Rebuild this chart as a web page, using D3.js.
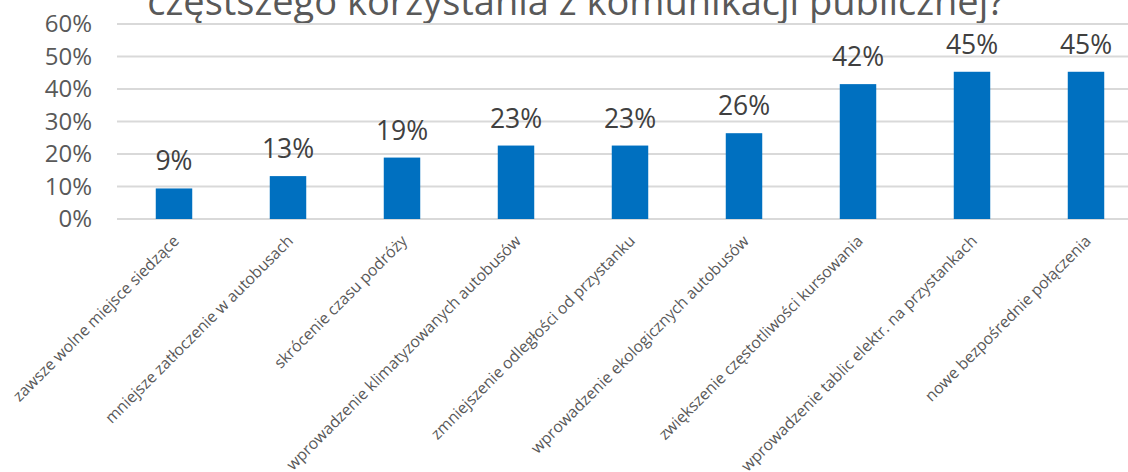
<!DOCTYPE html>
<html>
<head>
<meta charset="utf-8">
<script src="https://cdn.jsdelivr.net/npm/d3@7"></script>
<style>
    html, body { margin: 0; padding: 0; background: #fff; overflow: hidden; }
    svg { display: block; font-family: "Open Sans", sans-serif; }
</style>
</head>
<body>
<svg id="chart" width="1128" height="472"></svg>
<script>
// Co skłoniłoby do częstszego korzystania z komunikacji publicznej

const categories = [
    "zawsze wolne miejsce siedzące",
    "mniejsze zatłoczenie w autobusach",
    "skrócenie czasu podróży",
    "wprowadzenie klimatyzowanych autobusów",
    "zmniejszenie odległości od przystanku",
    "wprowadzenie ekologicznych autobusów",
    "zwiększenie częstotliwości kursowania",
    "wprowadzenie tablic elektr. na przystankach",
    "nowe bezpośrednie połączenia",
];
const values = [9.4, 13.2, 18.9, 22.6, 22.6, 26.4, 41.5, 45.3, 45.3];
const yTicks = [0, 10, 20, 30, 40, 50, 60];
const titleLine = "częstszego korzystania z komunikacji publicznej?";

const svg = d3.select("#chart");

const x = d3.scaleBand().domain(categories).range([117, 1143]).paddingInner(0.68).paddingOuter(0.34);
const y = d3.scaleLinear().domain([0, 60]).range([219, 24]);

// ---- title (first line is cut off above the frame) ----
svg.append("text")
    .attr("x", 576).attr("y", 15)
    .attr("text-anchor", "middle")
    .attr("fill", "#595959")
    .attr("font-size", 38)
    .text(titleLine);

// ---- grid ----
svg.append("g").selectAll("line")
    .data(yTicks).enter().append("line")
    .attr("x1", 117).attr("x2", 1128)
    .attr("y1", d => y(d)).attr("y2", d => y(d))
    .attr("stroke", "#d9d9d9").attr("stroke-width", 2);

// ---- y axis labels ----
const yAxis = svg.append("g")
    .attr("transform", "translate(92,0)")
    .call(d3.axisLeft(y).tickValues(yTicks).tickFormat(d => d + "%").tickSize(0).tickPadding(0));
yAxis.select(".domain").remove();
yAxis.selectAll("text")
    .attr("fill", "#595959")
    .attr("font-size", 24)
    .attr("font-family", "Open Sans, sans-serif");

// ---- bars ----
svg.append("g").selectAll("rect")
    .data(values).enter().append("rect")
    .attr("x", (d, i) => x(categories[i]))
    .attr("width", x.bandwidth())
    .attr("y", d => y(d))
    .attr("height", d => y(0) - y(d))
    .attr("fill", "#0070c0");

// ---- value labels ----
svg.append("g").selectAll("text")
    .data(values).enter().append("text")
    .attr("x", (d, i) => x(categories[i]) + x.bandwidth() / 2)
    .attr("y", d => y(d) - 18)
    .attr("text-anchor", "middle")
    .attr("fill", "#404040")
    .attr("font-size", 26.5)
    .text(d => Math.round(d) + "%");

// ---- category labels ----
svg.append("g").selectAll("text")
    .data(categories).enter().append("text")
    .attr("transform", d => `translate(${x(d) + x.bandwidth() / 2 + 6},${242}) rotate(-45)`)
    .attr("text-anchor", "end")
    .attr("fill", "#595959")
    .attr("font-size", 15.8)
    .text(d => d);
</script>
</body>
</html>
